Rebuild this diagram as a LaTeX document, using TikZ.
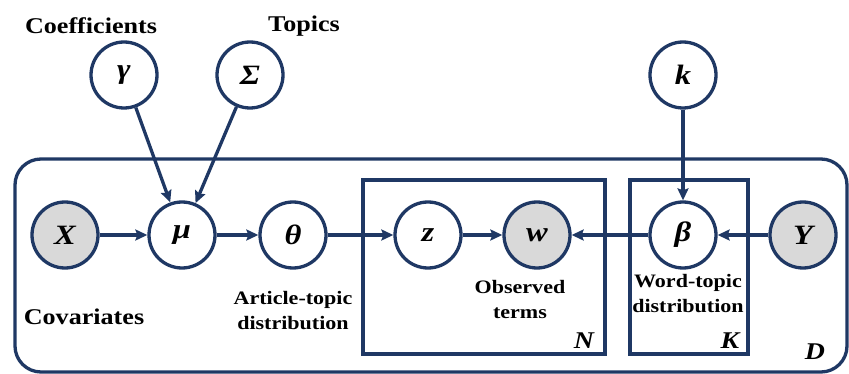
\documentclass[tikz,border=0pt]{standalone}
\usepackage{fontspec}
\setmainfont{Liberation Serif}
\newfontfamily\widefont[FakeStretch=1.16]{Liberation Serif}
\usetikzlibrary{arrows.meta}
\definecolor{navy}{RGB}{31,56,100}
\definecolor{obsgray}{RGB}{217,217,217}
\tikzset{
  var/.style={circle, draw=navy, line width=3.3pt, minimum size=66pt, inner sep=0pt, fill=white,
              font=\widefont\fontsize{28}{28}\selectfont\bfseries\itshape},
  obs/.style={var, fill=obsgray},
  link/.style={draw=navy, line width=3.3pt, -{Stealth[length=12pt,width=11pt,inset=2pt]}},
  plate/.style={draw=navy, line width=3.3pt},
  lbl/.style={font=\widefont\fontsize{22.5}{22.5}\selectfont\bfseries, align=center, inner sep=0pt},
  sublbl/.style={font=\widefont\fontsize{19}{25}\selectfont\bfseries, align=center, inner sep=0pt},
  platelbl/.style={font=\widefont\fontsize{24}{24}\selectfont\bfseries\itshape, inner sep=0pt}
}
\begin{document}
\begin{tikzpicture}[x=1pt, y=-1pt]
\useasboundingbox (0,0) rectangle (849,374);
% outer document plate
\draw[plate, rounded corners=26pt] (15,159) rectangle (847,372);
% inner plates
\draw[plate] (363,180) rectangle (605,354);
\draw[plate] (630,180) rectangle (748,354);
% variables
\node[var] (gamma) at (124,75) {γ};
\node[var] (sigma) at (250,75) {Σ};
\node[var] (k) at (683,75) {k};
\node[obs] (X) at (65,235) {X};
\node[var] (mu) at (182,235) {μ};
\node[var] (theta) at (293,235) {θ};
\node[var] (z) at (428,235) {z};
\node[obs] (w) at (537,235) {w};
\node[var] (beta) at (683,235) {β};
\node[obs] (Y) at (803,235) {Y};
% dependencies
\draw[link] (gamma) -- (mu);
\draw[link] (sigma) -- (mu);
\draw[link] (k) -- (beta);
\draw[link] (X) -- (mu);
\draw[link] (mu) -- (theta);
\draw[link] (theta) -- (z);
\draw[link] (z) -- (w);
\draw[link] (beta) -- (w);
\draw[link] (Y) -- (beta);
% labels
\node[lbl] (lcoef) at (91,26) {Coefficients};
\node[lbl] (ltop) at (304,26) {Topics};
\node[lbl] (lcov) at (84,317) {Covariates};
\node[sublbl] (lart) at (293,311) {Article-topic\\distribution};
\node[sublbl] (lobs) at (520,300) {Observed\\terms};
\node[sublbl] (lword) at (688,294) {Word-topic\\distribution};
\node[platelbl] (pN) at (584,341) {N};
\node[platelbl] (pK) at (730,341) {K};
\node[platelbl] (pD) at (815,352) {D};
\end{tikzpicture}
\end{document}
